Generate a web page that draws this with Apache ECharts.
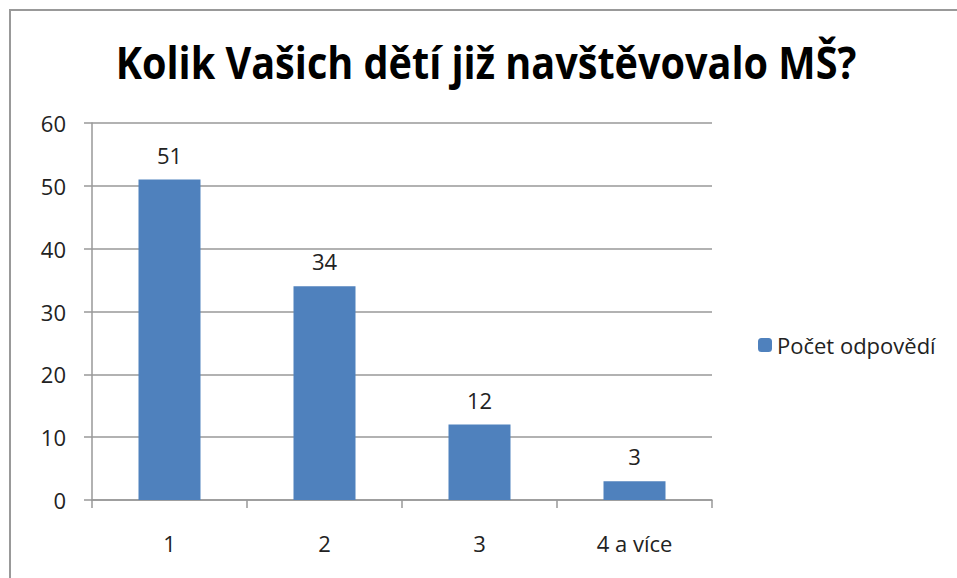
<!DOCTYPE html>
<html>
<head>
<meta charset="utf-8">
<script src="https://cdn.jsdelivr.net/npm/echarts@6/dist/echarts.min.js"></script>
<style>
  html, body { margin: 0; padding: 0; background: #fff; }
  #chart { width: 957px; height: 578px; }
</style>
</head>
<body>
<div id="chart"></div>
<script>
  var categories = ['1', '2', '3', '4 a více'];
  var answers = [51, 34, 12, 3];
  var seriesName = 'Počet odpovědí';
  var chartTitle = 'Kolik Vašich dětí již navštěvovalo MŠ?';

  var chartDom = document.getElementById('chart');
  var myChart = echarts.init(chartDom, null, { renderer: 'svg' });

  var textFont = '"Open Sans", sans-serif';

  var option = {
    animation: false,
    legend: {
      data: [seriesName],
      left: 753,
      top: 329,
      itemWidth: 14,
      itemHeight: 14,
      itemGap: 8,
      textStyle: { fontFamily: textFont, fontSize: 22, color: '#222' }
    },
    graphic: [{
      type: 'polyline',
      shape: { points: [[10, 600], [10, 10], [980, 10]] },
      style: { stroke: '#999', lineWidth: 2, fill: null }
    }, {
      // title drawn as graphic text so it can be narrowed like the original
      type: 'text',
      x: 486,
      y: 40,
      scaleX: 0.9,
      style: {
        text: chartTitle,
        fontFamily: textFont,
        fontWeight: 'bold',
        fontSize: 44,
        fill: '#000',
        align: 'center',
        verticalAlign: 'top'
      }
    }],
    grid: { left: 92, right: 245, top: 123, bottom: 78 },
    xAxis: {
      type: 'category',
      data: categories,
      axisLine: { lineStyle: { color: '#999', width: 1.5 } },
      axisTick: { show: true, length: 8, lineStyle: { color: '#999', width: 1.5 } },
      axisLabel: { margin: 32, fontFamily: textFont, fontSize: 22, color: '#222' }
    },
    yAxis: {
      type: 'value',
      min: 0,
      max: 60,
      interval: 10,
      axisLine: { show: true, lineStyle: { color: '#999', width: 1.5 } },
      axisTick: { show: true, length: 8, lineStyle: { color: '#999', width: 1.5 } },
      splitLine: { lineStyle: { color: '#999', width: 1.5 } },
      axisLabel: { margin: 26, fontFamily: textFont, fontSize: 22, color: '#222' }
    },
    series: [{
      name: seriesName,
      type: 'bar',
      data: answers,
      barWidth: '40%',
      itemStyle: { color: '#4F81BD' },
      label: {
        show: true,
        position: 'top',
        distance: 14,
        fontFamily: textFont,
        fontSize: 22,
        color: '#222'
      }
    }]
  };

  myChart.setOption(option);
  window.addEventListener('resize', myChart.resize);
</script>
</body>
</html>
